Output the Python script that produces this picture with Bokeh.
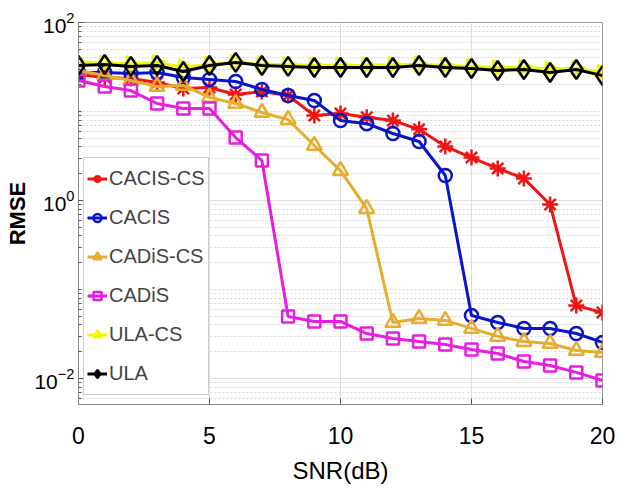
import numpy as np
from bokeh.plotting import figure
from bokeh.models import FixedTicker, Legend, LegendItem, Range1d
from bokeh.embed import file_html
from bokeh.resources import INLINE

snr = list(range(21))
cacis_cs = [26.1, 24.1, 23.5, 21.2, 18.1, 18.6, 15.5, 16.8, 15.1, 9.0, 9.5, 8.6, 7.9, 6.3, 4.05, 3.04, 2.29, 1.77, 0.90, 0.066, 0.055]
cacis = [27.4, 27.4, 26.7, 27.4, 24.1, 22.9, 21.7, 17.7, 15.1, 13.3, 7.9, 7.3, 5.66, 4.6, 1.91, 0.051, 0.0426, 0.0365, 0.0365, 0.032, 0.0254]
cadis_cs = [28.9, 25.4, 22.3, 19.1, 19.6, 14.4, 12.3, 9.75, 8.1, 4.15, 2.17, 0.81, 0.0426, 0.0472, 0.0449, 0.0365, 0.0297, 0.026, 0.0247, 0.0206, 0.0196]
cadis = [22.3, 19.1, 17.2, 12.3, 10.8, 10.8, 5.1, 2.81, 0.0498, 0.0437, 0.0437, 0.032, 0.0281, 0.026, 0.0241, 0.0212, 0.0191, 0.0155, 0.014, 0.0117, 0.0095]
ula_cs = [35.5, 35.0, 34.5, 35.5, 31.5, 34.0, 36.0, 34.0, 33.5, 33.0, 33.0, 33.0, 33.5, 34.0, 33.0, 32.0, 31.0, 31.5, 30.0, 30.5, 27.5]
ula = [32.9, 33.7, 32.1, 32.9, 28.1, 32.9, 35.6, 32.9, 32.1, 31.2, 31.2, 31.2, 31.2, 32.9, 31.2, 30.4, 28.9, 29.6, 27.4, 29.6, 25.3]

labels = ["CACIS-CS", "CACIS", "CADiS-CS", "CADiS", "ULA-CS", "ULA"]
x_ticks = [0, 5, 10, 15, 20]
y_ticks = [0.01, 1, 100]

FONT = "'Liberation Sans', Arial, sans-serif"

p = figure(width=621, height=502, x_range=Range1d(0, 20), y_range=Range1d(0.0051, 100),
           y_axis_type="log", output_backend="svg", toolbar_location=None,
           min_border_left=78, min_border_right=19, min_border_top=22, min_border_bottom=98)
p.background_fill_color = "white"
p.border_fill_color = "white"
p.outline_line_color = "#999999"

minor = [k * 10.0 ** n for n in (-3, -2, -1, 0, 1) for k in range(1, 10) if not (k == 1 and n in (-2, 0))]
yt = FixedTicker(ticks=y_ticks, minor_ticks=minor)
xt = FixedTicker(ticks=x_ticks)

for ax in (p.xaxis[0], p.yaxis[0]):
    ax.axis_line_color = "#888888"
    ax.major_tick_line_color = "#555555"
    ax.minor_tick_line_color = "#555555"
    ax.major_tick_in = 6
    ax.major_tick_out = 0
    ax.minor_tick_in = 3
    ax.minor_tick_out = 0
    ax.major_label_text_font = FONT
    ax.major_label_text_color = "black"
    ax.axis_label_text_font = FONT
    ax.axis_label_text_font_style = "normal"
    ax.axis_label_text_color = "black"

p.xaxis[0].ticker = xt
p.yaxis[0].ticker = yt
p.xaxis[0].major_label_text_font_size = "23px"
p.yaxis[0].major_label_text_font_size = "21px"
p.xaxis[0].axis_label = "SNR(dB)"
p.xaxis[0].axis_label_text_font_size = "24px"
p.xaxis[0].major_label_standoff = 22
p.xaxis[0].axis_label_standoff = 10
p.yaxis[0].axis_label = "RMSE"
p.yaxis[0].axis_label_text_font_size = "22px"
p.yaxis[0].axis_label_text_font_style = "bold"
p.yaxis[0].major_label_standoff = 4
p.yaxis[0].axis_label_standoff = 1

p.xgrid.ticker = xt
p.ygrid.ticker = yt
p.xgrid.grid_line_color = "#dddddd"
p.ygrid.grid_line_color = "#dddddd"
p.ygrid.minor_grid_line_color = "#d8d8d8"
p.ygrid.minor_grid_line_dash = "2 2"

series = [
    (cacis_cs, "#f01414", "asterisk", 16, 0),
    (cacis, "#0a14c8", "circle", 13, 0),
    (cadis_cs, "#e6ac2e", "triangle", 15, 0),
    (cadis, "#e61ee0", "square", 12, 0),
    (ula_cs, "#f5f500", "triangle", 15, -np.pi / 2),
    (ula, "#000000", "diamond", 19, 0),
]

items = []
for (vals, color, marker, size, ang), lab in zip(series, labels):
    r1 = p.line(snr, vals, line_color=color, line_width=3)
    r2 = p.scatter(snr, vals, marker=marker, size=size, angle=ang, line_color=color,
                   line_width=2.5, fill_alpha=0)
    items.append(LegendItem(label=lab, renderers=[r1, r2]))

legend = Legend(items=items, location=(5, 9), margin=0, padding=3, spacing=4,
                glyph_width=20, glyph_height=35, label_height=35, label_standoff=2,
                label_text_font=FONT, label_text_font_size="20px",
                border_line_color="#999999", border_line_width=1,
                background_fill_color="white", background_fill_alpha=1)
p.add_layout(legend)

open("out.html", "w").write(file_html(p, INLINE))
